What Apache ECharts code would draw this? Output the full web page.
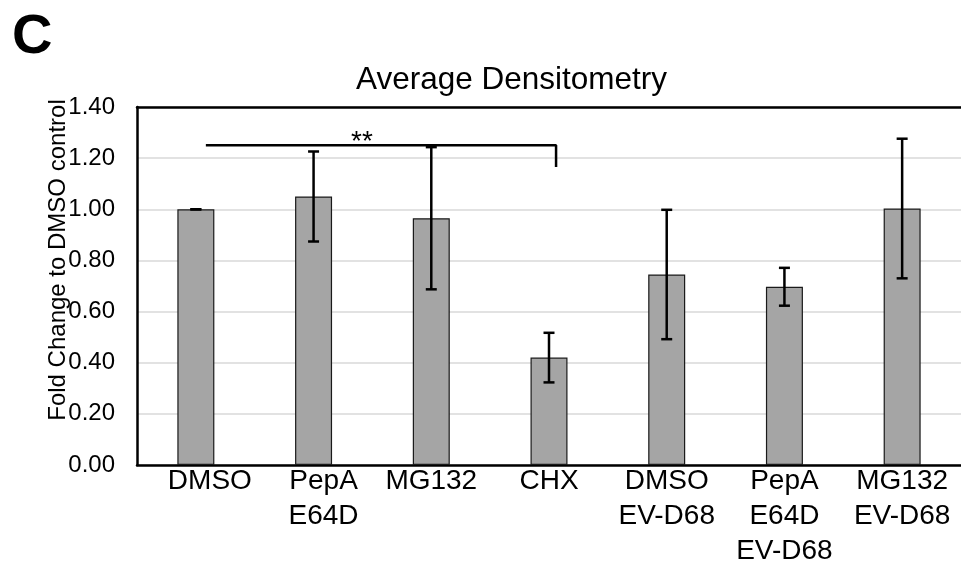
<!DOCTYPE html>
<html lang="en">
<head>
    <meta charset="UTF-8">
    <title>Average Densitometry</title>
    <script src="https://cdn.jsdelivr.net/npm/echarts@6/dist/echarts.min.js" type="text/javascript"></script>
    <style>
        html, body { margin: 0; padding: 0; background: #fff; }
        #chart { width: 961px; height: 562px; }
    </style>
</head>
<body>
<div id="chart"></div>

<script>
    // data
    var categories = ['DMSO', 'PepA\nE64D', 'MG132', 'CHX', 'DMSO\nEV-D68', 'PepA\nE64D\nEV-D68', 'MG132\nEV-D68'];
    var means = [1.00, 1.05, 0.965, 0.42, 0.745, 0.697, 1.003];
    var errors = [0.0, 0.176, 0.278, 0.097, 0.253, 0.074, 0.273];
    var yTicks = [0, 0.2, 0.4, 0.6, 0.8, 1.0, 1.2, 1.4];

    // significance bracket DMSO -> CHX (x in category units, centre of band i = i)
    var bracketX = [0.085, 3.06, 3.06];
    var bracketY = [1.25, 1.25, 1.165];

    var font = 'Liberation Sans, Arial, sans-serif';

    // first two labels sit a bit right of their bars in the original
    var labelPad = {0: 28, 1: 20};

    var catData = categories.map(function (c, i) {
        if (labelPad[i]) {
            return {value: c, textStyle: {padding: [0, 0, 0, labelPad[i]]}};
        }
        return c;
    });
    var errData = means.map(function (m, i) {
        return [i, m - errors[i], m + errors[i]];
    });
    var bracketData = bracketX.map(function (x, i) {
        return [x, bracketY[i]];
    });

    var chart = echarts.init(document.getElementById('chart'));
    chart.setOption({
        animation: false,
        backgroundColor: '#fff',
        textStyle: {fontFamily: font},
        title: [
            {
                text: 'C',
                left: 7,
                top: 5,
                textStyle: {fontSize: 56, fontWeight: 'bold', color: '#000', fontFamily: font}
            },
            {
                text: 'Average Densitometry',
                left: 351,
                top: 59,
                textStyle: {fontSize: 31.5, fontWeight: 'normal', color: '#000', fontFamily: font}
            }
        ],
        grid: {left: 137, right: 0, top: 107, bottom: 97, containLabel: false, outerBoundsMode: 'none'},
        xAxis: [
            {
                type: 'category',
                data: catData,
                position: 'bottom',
                axisLine: {lineStyle: {color: '#000', width: 2.5}},
                axisTick: {show: false},
                axisLabel: {
                    color: '#000',
                    fontSize: 28,
                    lineHeight: 35,
                    margin: -1,
                    interval: 0,
                    fontFamily: font
                }
            },
            {
                // hidden value axis used for the bracket, its line is the top border
                type: 'value',
                min: -0.5,
                max: 6.5,
                position: 'top',
                axisLine: {show: true, onZero: false, lineStyle: {color: '#000', width: 2.5}},
                axisTick: {show: false},
                axisLabel: {show: false},
                splitLine: {show: false}
            }
        ],
        yAxis: {
            type: 'value',
            min: yTicks[0],
            max: yTicks[yTicks.length - 1],
            interval: 0.2,
            axisLine: {show: true, onZero: false, lineStyle: {color: '#000', width: 2.5}},
            axisTick: {show: false},
            axisLabel: {
                color: '#000',
                fontSize: 24,
                margin: 22,
                fontFamily: font,
                formatter: function (v) { return v.toFixed(2); }
            },
            splitLine: {lineStyle: {color: '#d9d9d9', width: 1.5}}
        },
        graphic: [
            {
                type: 'text',
                x: 58,
                y: 260,
                rotation: Math.PI / 2,
                style: {
                    text: 'Fold Change to DMSO control',
                    fill: '#000',
                    font: '24px ' + font,
                    align: 'center',
                    verticalAlign: 'middle'
                }
            },
            {
                type: 'text',
                x: 362,
                y: 142,
                style: {
                    text: '**',
                    fill: '#000',
                    font: '28px ' + font,
                    align: 'center',
                    verticalAlign: 'middle'
                }
            }
        ],
        series: [
            {
                name: 'mean',
                type: 'bar',
                barWidth: 37,
                data: means,
                itemStyle: {color: '#a5a5a5', borderColor: '#1a1a1a', borderWidth: 1.2}
            },
            {
                name: 'error',
                type: 'custom',
                data: errData,
                z: 5,
                renderItem: function (params, api) {
                    var lo = api.coord([api.value(0), api.value(1)]);
                    var hi = api.coord([api.value(0), api.value(2)]);
                    var half = 5.5;
                    var st = {stroke: '#000', lineWidth: 2.5};
                    return {
                        type: 'group',
                        children: [
                            {type: 'line', shape: {x1: hi[0], y1: hi[1], x2: lo[0], y2: lo[1]}, style: st},
                            {type: 'line', shape: {x1: hi[0] - half, y1: hi[1], x2: hi[0] + half, y2: hi[1]}, style: st},
                            {type: 'line', shape: {x1: lo[0] - half, y1: lo[1], x2: lo[0] + half, y2: lo[1]}, style: st}
                        ]
                    };
                }
            },
            {
                name: 'bracket',
                type: 'line',
                xAxisIndex: 1,
                data: bracketData,
                symbol: 'none',
                z: 6,
                lineStyle: {color: '#000', width: 2.5}
            }
        ]
    });
</script>
</body>
</html>
